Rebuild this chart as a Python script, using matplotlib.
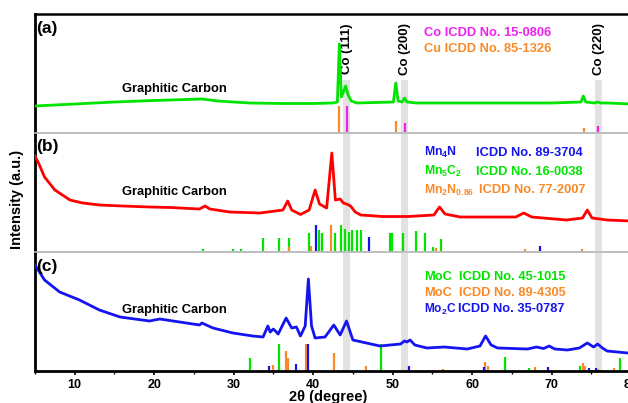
import matplotlib
matplotlib.use('Agg')
import matplotlib.pyplot as plt
from matplotlib.ticker import MultipleLocator

plt.rcParams['font.family'] = ['Liberation Sans', 'DejaVu Sans']
plt.rcParams['font.weight'] = 'bold'
plt.rcParams['mathtext.fontset'] = 'custom'
plt.rcParams['mathtext.rm'] = 'Liberation Sans:bold'
plt.rcParams['mathtext.it'] = 'Liberation Sans:bold'
plt.rcParams['mathtext.bf'] = 'Liberation Sans:bold'

# colours
GREEN = '#00E400'
RED = '#FF0000'
BLUE = '#1414F0'
MAGENTA = '#F020F0'
ORANGE = '#FA8A28'

# ---- panel (a): Co / Cu sample ----
a_x = [5, 10, 15, 20, 26, 28, 32, 36, 40, 42.5, 43.05, 43.3, 43.55, 43.75, 44.1,
       44.4, 44.8, 45.5, 50.1, 50.4, 50.7, 51.2, 51.5, 51.8, 53, 60, 70, 73.7,
       74.0, 74.3, 75.4, 75.8, 76.2, 77, 80]
a_y = [27, 29, 31, 32.5, 34, 32, 30, 29.5, 29.5, 30, 31, 89, 36, 40, 47,
       38, 32, 30, 31, 50, 32, 31, 35, 31, 30, 30, 30, 31,
       37, 31, 30, 31, 30, 30, 29]
cu_pos = [43.3, 50.4, 74.1]
cu_h = [27, 12, 5]
co_pos = [44.2, 51.5, 75.9]
co_h = [27, 10, 7]

# ---- panel (b): Mn sample ----
b_x = [5, 5.5, 6.2, 7.5, 9.4, 11, 13.1, 16, 19.4, 22, 25.7, 26.4, 27, 29.5, 33.3,
       36.2, 36.8, 37.3, 38.4, 39.5, 40.25, 40.8, 41.7, 42.35, 42.8, 43.4, 43.8,
       44.2, 44.7, 45.3, 46, 48.7, 52, 55.2, 55.9, 56.6, 58.5, 62, 65.5, 66.5,
       67.5, 71.9, 73.9, 74.5, 75.1, 77, 80]
b_y = [96, 88, 75, 62, 52, 49, 47, 46, 45, 44.5, 43, 46, 43, 40, 39,
       42, 51, 42, 37.5, 42, 62, 48, 44, 99, 52, 53, 49,
       48, 46, 40, 37, 35.5, 35.5, 37, 45, 38, 35, 35, 35, 39,
       35, 32, 34, 42, 34, 32, 31]
mn4n_pos = [22.2, 32.6, 40.3, 47.0, 68.5]
mn4n_h = [1.5, 1.5, 27, 15, 6]
mn5c2_pos = [26.1, 29.9, 30.9, 33.7, 35.7, 37.0, 39.5, 40.8, 41.1, 42.7, 43.5, 44.0,
             44.5, 44.9, 45.5, 46.0, 49.7, 49.95, 51.3, 52.9, 54.1, 55.1, 56.1]
mn5c2_h = [3, 3, 3, 14, 14, 14, 19, 22, 19, 19, 27, 23,
           20, 22, 22, 22, 19, 19, 19, 21, 19, 5, 13]
mn2n_pos = [28.4, 37.0, 39.7, 42.3, 55.4, 66.6, 73.8, 78.8]
mn2n_h = [1.5, 5, 6, 27, 4, 3, 3, 1.5]

# ---- panel (c): Mo sample ----
c_x = [5, 6.2, 8.1, 10.6, 13.1, 15.7, 19.4, 20.7, 23.2, 25.7, 26.0, 27.4, 29.9,
       32.4, 33.7, 34.3, 34.6, 35.0, 35.6, 36.6, 37.3, 37.9, 38.4, 39.0, 39.4,
       39.8, 40.25, 41.5, 42.6, 43.4, 44.2, 45.0, 46.7, 48.4, 51.0, 51.5, 51.8,
       52.2, 52.8, 54.3, 56.5, 59.4, 61.0, 61.7, 62.4, 63.2, 67.0, 68.1, 69.0,
       69.7, 70.4, 72.0, 73.5, 74.5, 75.3, 75.8, 76.4, 77.0, 79.6, 80]
c_y = [106, 91, 79, 71, 61, 54, 50, 52, 49, 46, 48, 43, 38,
       35, 34, 45, 39, 42, 37, 53, 43, 44, 35, 45, 92,
       45, 33, 34, 46, 36, 50, 31, 28, 25, 27, 30, 29,
       31, 26, 23, 24, 22, 25, 35, 26, 23, 22, 24, 22.5,
       25, 22, 21, 23, 28, 24, 27, 23, 20, 18, 18]
moc1_pos = [32.05, 35.7, 48.6, 64.2, 67.2, 73.6, 78.6]
moc1_h = [13, 27, 27, 14, 3, 5, 13]
moc2_pos = [34.9, 36.6, 36.9, 39.1, 42.6, 46.7, 56.4, 61.6, 62.0, 67.9, 73.9, 74.2, 75.8, 77.9]
moc2_h = [6, 20, 13, 27, 18, 5, 2.5, 9, 5, 4, 8, 5, 2.5, 3]
mo2c_pos = [34.4, 37.9, 39.4, 52.1, 61.5, 69.5, 74.7, 75.6]
mo2c_h = [5, 7, 27, 5, 4, 4, 3.5, 3]

band_pos = [44.2, 51.5, 75.9]
band_labels = ['Co (111)', 'Co (200)', 'Co (220)']

fig = plt.figure(figsize=(6.28, 4.03), dpi=100)
W = 628.0
H = 403.0
left = 35 / W
width = (631 - 35) / W
ph = 119 / H
axa = fig.add_axes([left, 1 - 133 / H, width, ph])
axb = fig.add_axes([left, 1 - 252 / H, width, ph])
axc = fig.add_axes([left, 1 - 371 / H, width, ph])

SEP = '#BDBDBD'
for ax in (axa, axb, axc):
    ax.set_xlim(5, 80)
    ax.set_ylim(0, 119)
    ax.set_yticks([])
    ax.spines['right'].set_visible(False)
    ax.spines['left'].set_linewidth(2.0)
    ax.spines['top'].set_color(SEP)
    ax.spines['bottom'].set_color(SEP)
    ax.spines['top'].set_linewidth(1.2)
    ax.spines['bottom'].set_linewidth(1.2)
    ax.patch.set_alpha(0)
axa.spines['top'].set_color('black')
axa.spines['top'].set_linewidth(1.8)
axc.spines['bottom'].set_color('black')
axc.spines['bottom'].set_linewidth(2.0)
for ax in (axa, axb):
    ax.set_xticks([])

# grey bands at Co reflections
for p in band_pos:
    axa.axvspan(p - 0.45, p + 0.45, ymin=0, ymax=53 / 119, color='#E2E2E2', lw=0, zorder=0)
    axb.axvspan(p - 0.45, p + 0.45, color='#E2E2E2', lw=0, zorder=0)
    axc.axvspan(p - 0.45, p + 0.45, color='#E2E2E2', lw=0, zorder=0)
for p, lab in zip(band_pos, band_labels):
    axa.text(p + 0.1, 84, lab, rotation=90, ha='center', va='center', fontsize=9.5,
             fontweight='bold')

LW = 2.0
SW = 1.6
FS = 9.3
# (a)
axa.plot(a_x, a_y, color=GREEN, lw=LW, zorder=3)
axa.vlines(cu_pos, 0, cu_h, color=ORANGE, lw=SW, zorder=2)
axa.vlines(co_pos, 0, co_h, color=MAGENTA, lw=SW, zorder=2)
axa.text(53.9, 100, 'Co ICDD No. 15-0806', color=MAGENTA, fontsize=FS, va='center')
axa.text(53.9, 84, 'Cu ICDD No. 85-1326', color=ORANGE, fontsize=FS, va='center')

# (b)
axb.plot(b_x, b_y, color=RED, lw=LW, zorder=3)
axb.vlines(mn5c2_pos, 0, mn5c2_h, color=GREEN, lw=SW, zorder=2)
axb.vlines(mn2n_pos, 0, mn2n_h, color=ORANGE, lw=SW, zorder=2)
axb.vlines(mn4n_pos, 0, mn4n_h, color=BLUE, lw=SW, zorder=2)
axb.text(54.0, 99.3, r'Mn$_4$N', color=BLUE, fontsize=8.8, va='center')
axb.text(60.55, 99.3, 'ICDD No. 89-3704', color=BLUE, fontsize=FS, va='center')
axb.text(54.0, 80.3, r'Mn$_5$C$_2$', color=GREEN, fontsize=8.8, va='center')
axb.text(60.55, 80.3, 'ICDD No. 16-0038', color=GREEN, fontsize=FS, va='center')
axb.text(54.0, 62, r'Mn$_2$N$_{0.86}$', color=ORANGE, fontsize=8.8, va='center')
axb.text(60.9, 62, 'ICDD No. 77-2007', color=ORANGE, fontsize=FS, va='center')

# (c)
axc.plot(c_x, c_y, color=BLUE, lw=LW, zorder=3)
axc.vlines(moc1_pos, 0, moc1_h, color=GREEN, lw=SW, zorder=2)
axc.vlines(moc2_pos, 0, moc2_h, color=ORANGE, lw=SW, zorder=2)
axc.vlines(mo2c_pos, 0, mo2c_h, color=BLUE, lw=SW, zorder=2)
axc.text(54.0, 93.7, 'MoC', color=GREEN, fontsize=FS, va='center')
axc.text(58.4, 93.7, 'ICDD No. 45-1015', color=GREEN, fontsize=FS, va='center')
axc.text(54.0, 77.7, 'MoC', color=ORANGE, fontsize=FS, va='center')
axc.text(58.4, 77.7, 'ICDD No. 89-4305', color=ORANGE, fontsize=FS, va='center')
axc.text(54.0, 61.7, r'Mo$_2$C', color=BLUE, fontsize=8.6, va='center')
axc.text(58.2, 61.7, 'ICDD No. 35-0787', color=BLUE, fontsize=FS, va='center')

# labels
for ax, lab in zip((axa, axb, axc), ['(a)', '(b)', '(c)']):
    ax.text(5.2, 105, lab, fontsize=12.5, fontweight='bold', va='center', ha='left')
for ax, yy in zip((axa, axb, axc), [44, 60.3, 61]):
    ax.text(22.5, yy, 'Graphitic Carbon', fontsize=9.3, fontweight='bold',
            ha='center', va='center', zorder=4)

axc.xaxis.set_major_locator(MultipleLocator(10))
axc.xaxis.set_minor_locator(MultipleLocator(5))
axc.tick_params(axis='x', which='major', direction='out', length=3, width=1.2,
                pad=2.5, labelsize=9)
axc.tick_params(axis='x', which='minor', direction='out', length=2, width=1.0)
for t in axc.get_xticklabels():
    t.set_fontweight('bold')

fig.text(328 / W, 1 - 396.5 / H, '2θ (degree)', fontsize=10.5, fontweight='bold',
         ha='center', va='center')
fig.text(17.5 / W, 1 - 199 / H, 'Intensity (a.u.)', fontsize=10.5, fontweight='bold',
         rotation=90, ha='center', va='center')

fig.savefig('out.png', dpi=100)
